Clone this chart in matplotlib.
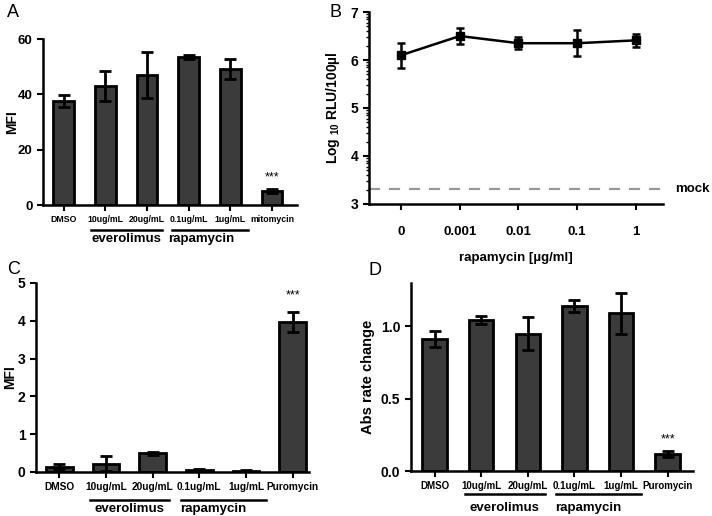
import matplotlib
matplotlib.use('Agg')
import matplotlib.pyplot as plt
import matplotlib.transforms as mtransforms
import numpy as np

plt.rcParams['font.family'] = ['Liberation Sans', 'DejaVu Sans']
plt.rcParams['mathtext.default'] = 'regular'

############################
# data
############################

cats_A = ['DMSO', '10ug/mL', '20ug/mL', '0.1ug/mL', '1ug/mL', 'mitomycin']
mfi_A = [37.5, 43.0, 47.0, 53.5, 49.0, 5.2]
err_A = [2.2, 5.3, 8.3, 0.9, 3.6, 0.7]

cats_B = ['0', '0.001', '0.01', '0.1', '1']
rlu_B = [6.10, 6.50, 6.35, 6.35, 6.41]
err_B = [0.26, 0.17, 0.13, 0.27, 0.14]
mock_B = 3.31

cats_C = ['DMSO', '10ug/mL', '20ug/mL', '0.1ug/mL', '1ug/mL', 'Puromycin']
mfi_C = [0.13, 0.22, 0.49, 0.05, 0.03, 3.97]
err_C = [0.07, 0.20, 0.05, 0.02, 0.02, 0.27]

cats_D = ['DMSO', '10ug/mL', '20ug/mL', '0.1ug/mL', '1ug/mL', 'Puromycin']
abs_D = [0.91, 1.045, 0.95, 1.14, 1.09, 0.115]
err_D = [0.055, 0.03, 0.115, 0.04, 0.14, 0.02]

groups = ['everolimus', 'rapamycin']

barcol = '#3b3b3b'
narrow = ['Liberation Sans Narrow', 'Liberation Sans', 'DejaVu Sans']

############################
# helpers
############################

def style_axes(ax):
    for s in ['top', 'right']:
        ax.spines[s].set_visible(False)
    for s in ['left', 'bottom']:
        ax.spines[s].set_linewidth(1.8)
    ax.tick_params(axis='both', direction='out', width=1.5, length=4)


def bar_panel(ax, cats, vals, errs, star_y, width, xlabsize, linecol_y, text_y):
    x = np.arange(len(cats))
    ax.bar(x, vals, width=width, color=barcol, edgecolor='black', linewidth=2, zorder=2)
    ax.errorbar(x, vals, yerr=errs, fmt='none', ecolor='black', elinewidth=2,
                capsize=4, capthick=2, zorder=3)
    ax.set_xticks(x)
    ax.set_xticklabels(cats, fontsize=xlabsize, fontweight='bold', family=narrow)
    ax.text(x[-1], vals[-1] + star_y, '***', ha='center', va='bottom', fontsize=9)
    trans = mtransforms.blended_transform_factory(ax.transData, ax.transAxes)
    ax.plot([0.66, 2.36], [linecol_y, linecol_y], color='black', lw=1.8,
            transform=trans, clip_on=False)
    ax.plot([2.6, 4.43], [linecol_y, linecol_y], color='black', lw=1.8,
            transform=trans, clip_on=False)
    ax.text(1.5, text_y, groups[0], transform=trans, ha='center', va='center',
            fontsize=9.5, fontweight='bold')
    ax.text(3.3, text_y, groups[1], transform=trans, ha='center', va='center',
            fontsize=9.5, fontweight='bold')
    style_axes(ax)


def bold_yticks(ax, size):
    ax.tick_params(axis='y', labelsize=size)
    for lab in ax.get_yticklabels():
        lab.set_fontweight('bold')


fig = plt.figure(figsize=(7.12, 5.16), dpi=100)

############################
# A
############################
axA = fig.add_axes([0.0604, 0.6027, 0.3566, 0.3217])
bar_panel(axA, cats_A, mfi_A, errs=err_A, star_y=2.5, width=0.5, xlabsize=6.3,
          linecol_y=-0.15, text_y=-0.205)
axA.set_xlim(-0.5, 5.6)
axA.set_ylim(0, 60)
axA.set_yticks([0, 20, 40, 60])
bold_yticks(axA, 9.5)
axA.set_ylabel('MFI', fontsize=10, fontweight='bold')
axA.yaxis.set_label_coords(-0.095, 0.5)
fig.text(0.01, 0.975, 'A', fontsize=13, va='center')

############################
# B
############################
axB = fig.add_axes([0.518, 0.6047, 0.413, 0.372])
xb = np.arange(len(cats_B))
axB.errorbar(xb, rlu_B, yerr=err_B, color='black', lw=1.8, marker='s', ms=6,
             elinewidth=1.8, capsize=3, capthick=1.8)
axB.axhline(mock_B, color='#999999', lw=1.6, ls=(0, (5, 4)), xmax=1.0, clip_on=False)
axB.set_xlim(-0.55, 4.46)
axB.set_ylim(3, 7)
axB.set_yticks([3, 4, 5, 6, 7])
minor = [d + np.log10(k) for d in range(3, 7) for k in range(2, 10)]
axB.set_yticks(minor, minor=True)
axB.tick_params(axis='y', which='minor', direction='out', width=1.0, length=2.5)
axB.set_xticks(xb)
axB.set_xticklabels(cats_B, fontsize=9.5, fontweight='bold')
bold_yticks(axB, 10)
axB.tick_params(axis='x', pad=12)
axB.set_xlabel('rapamycin [µg/ml]', fontsize=9.5, fontweight='bold', labelpad=10)
axB.set_ylabel('Log $_{10}$ RLU/100µl', fontsize=10, fontweight='bold', labelpad=6)
trans = mtransforms.blended_transform_factory(axB.transAxes, axB.transData)
axB.text(1.04, mock_B, 'mock', transform=trans, fontsize=9.5, fontweight='bold',
         va='center', ha='left')
style_axes(axB)
fig.text(0.463, 0.975, 'B', fontsize=13, va='center')

############################
# C
############################
axC = fig.add_axes([0.0506, 0.0853, 0.3834, 0.3663])
bar_panel(axC, cats_C, mfi_C, errs=err_C, star_y=0.55, width=0.57, xlabsize=7.3,
          linecol_y=-0.15, text_y=-0.195)
axC.set_xlim(-0.5, 5.35)
axC.set_ylim(0, 5)
axC.set_yticks([0, 1, 2, 3, 4, 5])
bold_yticks(axC, 10)
axC.set_ylabel('MFI', fontsize=10, fontweight='bold')
axC.yaxis.set_label_coords(-0.068, 0.5)
fig.text(0.01, 0.477, 'C', fontsize=13, va='center')

############################
# D
############################
axD = fig.add_axes([0.577, 0.0872, 0.396, 0.3644])
bar_panel(axD, cats_D, abs_D, errs=err_D, star_y=0.06, width=0.52, xlabsize=7,
          linecol_y=-0.12, text_y=-0.195)
axD.set_xlim(-0.51, 5.54)
axD.set_ylim(0, 1.3)
axD.set_yticks([0, 0.5, 1.0])
axD.set_yticklabels(['0.0', '0.5', '1.0'])
bold_yticks(axD, 10)
axD.set_ylabel('Abs rate change', fontsize=10.5, fontweight='bold')
fig.text(0.517, 0.475, 'D', fontsize=13, va='center')

plt.savefig('out.png', dpi=100)
